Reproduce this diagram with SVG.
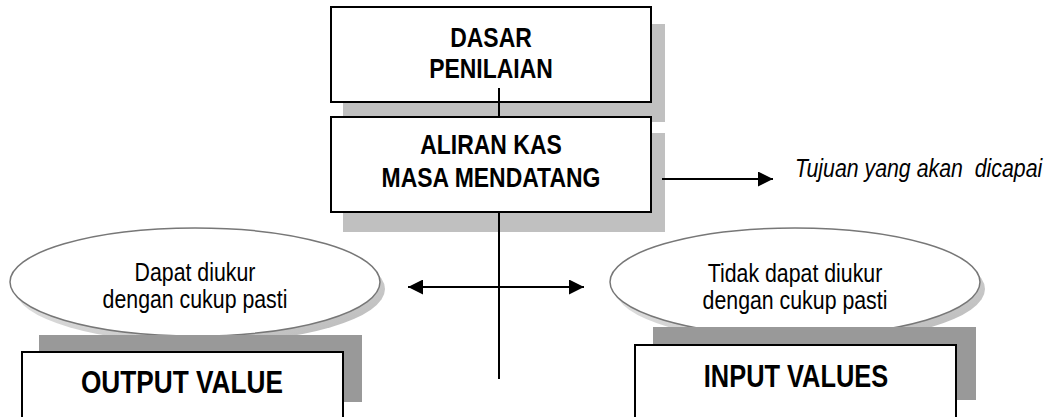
<svg xmlns="http://www.w3.org/2000/svg" width="1054" height="417" viewBox="0 0 1054 417">
<defs>
<style>
.box{fill:#fff;stroke:#000;stroke-width:2}
.sh1{fill:#c0c0c0}
.sh2{fill:#999}
.ell{fill:#fff;stroke:#777;stroke-width:1.5}
.esh{fill:url(#eg)}
.line{stroke:#000;stroke-width:2;fill:none}
.b{font-family:"Liberation Sans",Arial,sans-serif;font-weight:bold;fill:#000;text-anchor:middle}
.r{font-family:"Liberation Sans",Arial,sans-serif;fill:#000;text-anchor:middle;font-size:26px}
.i{font-family:"Liberation Sans",Arial,sans-serif;font-style:italic;fill:#000;font-size:26px;white-space:pre}
</style>
<linearGradient id="eg" x1="0" y1="0" x2="1" y2="1">
<stop offset="0" stop-color="#f0f0f0"/>
<stop offset="1" stop-color="#b8b8b8"/>
</linearGradient>
<marker id="ah" viewBox="0 0 10 10" refX="10" refY="5" markerWidth="15" markerHeight="15" markerUnits="userSpaceOnUse" orient="auto-start-reverse">
<path d="M0,0 L10,5 L0,10 z" fill="#000"/>
</marker>
</defs>
<rect width="1054" height="417" fill="#fff"/>

<g id="dasar-shadow">
<rect class="sh1" x="343" y="24" width="322" height="98"/>
</g>
<g id="aliran-shadow">
<rect class="sh1" x="343" y="133" width="322" height="99"/>
</g>
<g id="dasar">
<rect class="box" x="331" y="7" width="320" height="95"/>
<text class="b" font-size="28" transform="translate(491,47) scale(0.82,1)">DASAR</text>
<text class="b" font-size="28" transform="translate(491,78) scale(0.82,1)">PENILAIAN</text>
</g>
<g id="aliran">
<rect class="box" x="331" y="117" width="320" height="95"/>
<text class="b" font-size="28" transform="translate(491,154) scale(0.82,1)">ALIRAN KAS</text>
<text class="b" font-size="28" transform="translate(491,187) scale(0.82,1)">MASA MENDATANG</text>
</g>

<g id="tujuan">
<text class="i" transform="translate(795,177) scale(0.82,1)">Tujuan yang akan  dicapai</text>
</g>

<g id="ellipse-left">
<ellipse class="esh" cx="200" cy="289" rx="185" ry="54"/>
<ellipse class="ell" cx="195" cy="282" rx="185" ry="54"/>
<text class="r" transform="translate(195,281) scale(0.82,1)">Dapat diukur</text>
<text class="r" transform="translate(195,308) scale(0.82,1)">dengan cukup pasti</text>
</g>

<g id="ellipse-right">
<ellipse class="esh" cx="800" cy="289" rx="185" ry="54"/>
<ellipse class="ell" cx="795" cy="282" rx="185" ry="54"/>
<text class="r" transform="translate(795,282) scale(0.82,1)">Tidak dapat diukur</text>
<text class="r" transform="translate(795,309) scale(0.82,1)">dengan cukup pasti</text>
</g>

<g id="output-value">
<rect class="sh2" x="39" y="335" width="323" height="67"/>
<rect class="box" x="22" y="352" width="321" height="80"/>
<text class="b" font-size="32" transform="translate(182,393) scale(0.82,1)">OUTPUT VALUE</text>
</g>

<g id="input-values">
<rect class="sh2" x="653" y="327" width="323" height="73"/>
<rect class="box" x="635" y="345" width="321" height="80"/>
<text class="b" font-size="31" transform="translate(796,387) scale(0.82,1)">INPUT VALUES</text>
</g>

<g id="connectors">
<line class="line" x1="499" y1="88" x2="499" y2="117"/>
<line class="line" x1="499" y1="212" x2="499" y2="379"/>
<line class="line" x1="662" y1="179" x2="773" y2="179" marker-end="url(#ah)"/>
<line class="line" x1="408" y1="287" x2="584" y2="287" marker-start="url(#ah)" marker-end="url(#ah)"/>
</g>
</svg>
